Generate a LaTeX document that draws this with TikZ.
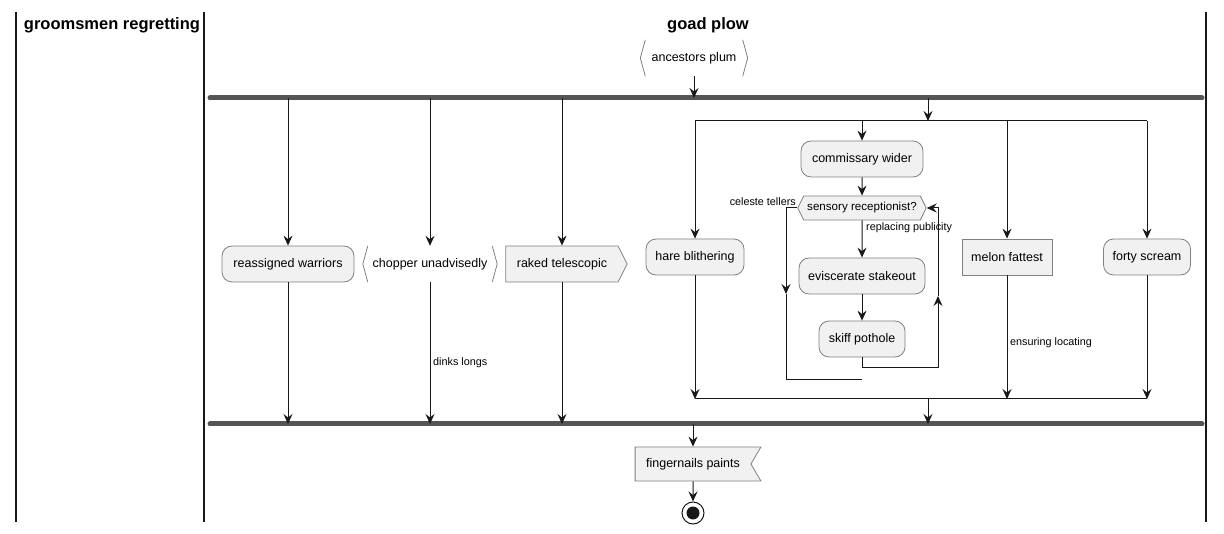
\documentclass[tikz,border=0pt]{standalone}
\usepackage{fontspec}
\setmainfont{Liberation Sans}
\usetikzlibrary{arrows.meta, shapes.symbols, calc}
\definecolor{boxfill}{HTML}{F1F1F1}
\definecolor{boxline}{HTML}{808080}
\definecolor{flowline}{HTML}{181818}
\definecolor{barcol}{HTML}{555555}

\begin{document}
\begin{tikzpicture}[x=1pt, y=-1pt,
  font=\fontsize{12.5}{15}\selectfont,
  flow/.style={draw=flowline, line width=1pt},
  arr/.style={flow, -{Stealth[length=10pt, width=9pt, inset=3.5pt]}},
  act/.style={draw=boxline, fill=boxfill, line width=0.8pt, rounded corners=10pt, minimum height=36pt, inner sep=0pt},
  box/.style={draw=boxline, fill=boxfill, line width=0.8pt, minimum height=36pt, inner ysep=0pt},
  bare/.style={minimum height=36pt, inner sep=0pt},
  brace/.style={draw=boxline, line width=0.8pt},
  lbl/.style={font=\fontsize{10.8}{13}\selectfont, inner sep=0pt},
  bar/.style={draw=barcol, line width=5pt, line cap=round},
  lane/.style={draw=flowline, line width=1.5pt},
  title/.style={font=\bfseries\fontsize{16.5}{20}\selectfont}
]
\useasboundingbox (0,0) rectangle (1224,534);

% swimlanes
\draw[lane] (16,12) -- (16,522);
\draw[lane] (204,12) -- (204,522);
\draw[lane] (1206,12) -- (1206,522);
\node[title] (laneone) at (112,25) {groomsmen regretting};
\node[title] (lanetwo) at (708,25) {goad plow};

% start
\node[bare, minimum width=107] (ancestors) at (694,58) {ancestors plum};
\draw[brace] ([xshift=5]ancestors.north west) -- (ancestors.west) -- ([xshift=5]ancestors.south west);
\draw[brace] ([xshift=-5]ancestors.north east) -- (ancestors.east) -- ([xshift=-5]ancestors.south east);

% fork and join bars
\coordinate (fork) at (210,98);
\coordinate (forkend) at (1202,98);
\coordinate (join) at (210,424);
\coordinate (joinend) at (1202,424);
\draw[bar] (fork) -- (forkend);
\draw[bar] (join) -- (joinend);
\draw[arr] (ancestors) -- (ancestors |- fork);

% outer branches
\node[act, minimum width=132] (warriors) at (288,264) {reassigned warriors};
\node[bare, minimum width=134] (chopper) at (430,264) {chopper unadvisedly};
\draw[brace] ([xshift=5]chopper.north west) -- (chopper.west) -- ([xshift=5]chopper.south west);
\draw[brace] ([xshift=-5]chopper.north east) -- (chopper.east) -- ([xshift=-5]chopper.south east);
\node[box, signal, signal to=east, signal pointer angle=127, inner xsep=11pt] (raked) at (562,264) {raked telescopic};

\foreach \n in {warriors, chopper, raked} {
  \draw[arr] (\n |- fork) -- (\n);
  \draw[arr] (\n) -- (\n |- join);
}
\node[lbl, anchor=west] (dinks) at (433,363) {dinks longs};

% inner split
\coordinate (split) at (928,121);
\coordinate (splitleft) at (695,121);
\coordinate (splitright) at (1147,121);
\draw[arr] (split |- fork) -- (split);
\draw[flow] (splitleft) -- (splitright);

\node[act, minimum width=98] (hare) at (695,257) {hare blithering};
\node[act, minimum width=122] (commissary) at (862,159) {commissary wider};
\node[box, signal, signal to=east and west, signal pointer angle=127, minimum height=24pt, inner xsep=3.5pt, font=\fontsize{11.6}{14}\selectfont] (sensory) at (862,208) {sensory receptionist?};
\node[act, minimum width=126] (eviscerate) at (862,276) {eviscerate stakeout};
\node[act, minimum width=86] (skiff) at (862,339) {skiff pothole};
\node[box, minimum width=90, inner xsep=0pt] (melon) at (1007,257) {melon fattest};
\node[act, minimum width=87] (forty) at (1147,257) {forty scream};

\foreach \n in {hare, commissary, melon, forty}
  \draw[arr] (\n |- split) -- (\n);

% repeat loop
\draw[arr] (commissary) -- (sensory);
\draw[arr] (sensory) -- (eviscerate);
\draw[arr] (eviscerate) -- (skiff);
\node[lbl, anchor=west] (replacing) at (866,228) {replacing publicity};
\node[lbl, anchor=east] (celeste) at (796,202) {celeste tellers};

\coordinate (backbottom) at (938,368);
\coordinate (backtop) at (938,208);
\draw[arr] (skiff) |- (backbottom) -- ($(backbottom)!0.45!(backtop)$);
\draw[arr] ($(backbottom)!0.45!(backtop)$) -- (backtop) -- (sensory.east);

\coordinate (exittop) at (786,208);
\coordinate (exitbottom) at (786,380);
\coordinate (exitend) at (862,380);
\draw[arr] (sensory.west) -- (exittop) -- ($(exittop)!0.5!(exitbottom)$);
\draw[flow] ($(exittop)!0.5!(exitbottom)$) -- (exitbottom) -- (exitend);

% inner merge
\coordinate (merge) at (928,399);
\coordinate (mergeleft) at (695,399);
\coordinate (mergeright) at (1147,399);
\draw[flow] (mergeleft) -- (mergeright);
\foreach \n in {hare, melon, forty}
  \draw[arr] (\n) -- (\n |- merge);
\node[lbl, anchor=west] (ensuring) at (1010,343) {ensuring locating};
\draw[arr] (merge) -- (merge |- join);

% end
\node[box, signal, signal to=nowhere, signal from=east, signal pointer angle=119, inner xsep=11pt, minimum height=34pt] (fingernails) at (693,464) {fingernails paints};
\draw[arr] (fingernails |- join) -- (fingernails);
\node[circle, draw=flowline, line width=1pt, minimum size=22pt, inner sep=0pt] (stop) at (693,513) {};
\node[circle, fill=flowline, minimum size=13pt, inner sep=0pt] (stopdot) at (stop) {};
\draw[arr] (fingernails) -- (stop);
\end{tikzpicture}
\end{document}
